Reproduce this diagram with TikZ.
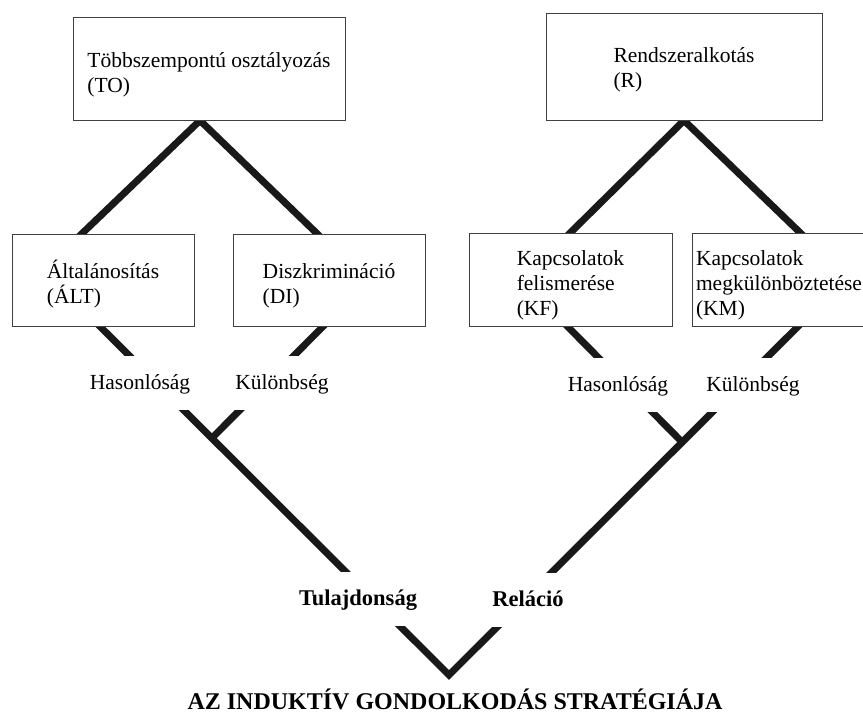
\documentclass[tikz,border=0pt]{standalone}
\usepackage{fontspec}
\setmainfont{Liberation Serif}
\usepackage{tikz}
\usetikzlibrary{positioning,backgrounds}

% fixed top of the first line in a box
\newcommand{\boxtop}{\rule{0pt}{27pt}}

\begin{document}
\begin{tikzpicture}[x=1pt,y=-1pt,
    box/.style={draw=black!75,line width=0.9pt,fill=white,align=left,inner sep=0pt,
        font=\fontsize{21.5}{25}\selectfont},
    lbl/.style={fill=white,inner xsep=4pt,inner ysep=0pt,text height=33pt,text depth=21pt,
        anchor=base,font=\fontsize{21.5}{25}\selectfont},
    bar/.style={line width=7pt,black!90}]
    \useasboundingbox (0,0) rectangle (863,716);

    % Top boxes
    \node[box,minimum width=272pt,minimum height=103pt] (TO) at (209,68.5) {\boxtop Többszempontú osztályozás\\(TO)};
    \node[box,minimum width=276pt,minimum height=107pt] (R) at (684,66.5) {\rule{0pt}{21pt}Rendszeralkotás\\(R)};

    % Second row
    \node[box,minimum width=182pt,minimum height=92pt] (ALT) at (103,280) {\boxtop Általánosítás\\(ÁLT)};
    \node[box,minimum width=192pt,minimum height=92pt] (DI) at (329,280) {\boxtop Diszkrimináció\\(DI)};
    \node[box,minimum width=203pt,minimum height=93pt] (KF) at (570.5,279.5) {\boxtop Kapcsolatok\\felismerése\\(KF)};
    \node[box,minimum width=174pt,minimum height=93pt] (KM) at (779,279.5) {\boxtop Kapcsolatok\\megkülönböztetése\\(KM)};

    % Labels on the lines
    \node[lbl] (hasL) at (140,389) {Hasonlóság};
    \node[lbl] (kulL) at (282,389) {Különbség};
    \node[lbl] (hasR) at (618,391) {Hasonlóság};
    \node[lbl] (kulR) at (753,391) {Különbség};
    \node[lbl,font=\fontsize{22.5}{25}\selectfont\bfseries] (tul) at (358,605) {Tulajdonság};
    \node[lbl,font=\fontsize{22.5}{25}\selectfont\bfseries] (rel) at (528,606) {Reláció};
    \node[anchor=base,inner sep=0pt,font=\fontsize{24}{28}\selectfont\bfseries] (title) at (455,709) {AZ INDUKTÍV GONDOLKODÁS STRATÉGIÁJA};

    \coordinate (apex) at (449,675);
    \coordinate (jL) at (211.5,438.5);
    \coordinate (jR) at (682.5,442.5);

    % Thick lines behind everything
    \begin{scope}[on background layer]
        \draw[bar,shorten <=-5pt,shorten >=-5pt] ([xshift=-9pt]TO.south) -- ([xshift=-21pt]ALT.north);
        \draw[bar,shorten <=-5pt,shorten >=-5pt] ([xshift=-9pt]TO.south) -- ([xshift=-12pt]DI.north);
        \draw[bar,shorten <=-5pt,shorten >=-5pt] (R.south) -- (KF.north);
        \draw[bar,shorten <=-5pt,shorten >=-5pt] (R.south) -- ([xshift=21pt]KM.north);
        \draw[bar,shorten <=-5pt,shorten >=-5pt] ([xshift=-3pt]ALT.south) -- (apex) -- ([xshift=19pt]KM.south);
        \draw[bar,shorten <=-5pt] ([xshift=-6pt]DI.south) -- (jL);
        \draw[bar,shorten <=-5pt] ([xshift=-3pt]KF.south) -- (jR);
    \end{scope}
\end{tikzpicture}
\end{document}
